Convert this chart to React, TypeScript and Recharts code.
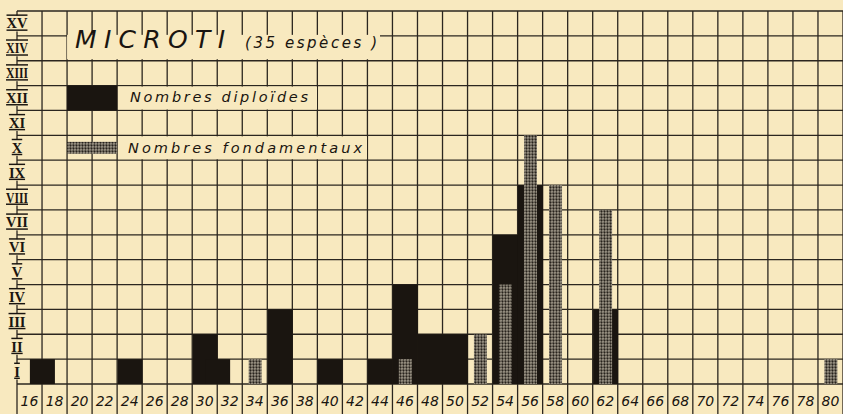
import React from 'react'
import { BarChart, Bar, XAxis, YAxis, CartesianGrid } from 'recharts'

// chromosome numbers and how many species have them
const nombres = [17, 24, 30, 31, 34, 36, 40, 44, 46, 48, 50, 52, 54, 56, 58, 62, 80]
const diploides = [1, 1, 2, 1, null, 3, 1, 1, 4, 2, 2, null, 6, 8, null, 3, null]
const fondamentaux = [null, null, null, null, 1, null, null, null, 1, null, null, 2, 4, 10, 8, 7, 1]

// grid columns are 2 units wide: boundaries on odd numbers, labels on even ones
const xBoundaries = [
  15, 17, 19, 21, 23, 25, 27, 29, 31, 33, 35, 37, 39, 41, 43, 45, 47,
  49, 51, 53, 55, 57, 59, 61, 63, 65, 67, 69, 71, 73, 75, 77, 79, 81,
]
const xLabels = [
  '16', '18', '20', '22', '24', '26', '28', '30', '32', '34', '36', '38', '40', '42', '44', '46', '48',
  '50', '52', '54', '56', '58', '60', '62', '64', '66', '68', '70', '72', '74', '76', '78', '80',
]
const yTicks = [0, 1, 2, 3, 4, 5, 6, 7, 8, 9, 10, 11, 12, 13, 14, 15]
const romans = ['I', 'II', 'III', 'IV', 'V', 'VI', 'VII', 'VIII', 'IX', 'X', 'XI', 'XII', 'XIII', 'XIV', 'XV']

const data = nombres.map((n, i) => ({ n, diploides: diploides[i], fondamentaux: fondamentaux[i] }))

const W = 843
const H = 414
const Y_W = 17
const TOP = 11
const X_H = 30
const BOTTOM = H - X_H
const COL = (W - Y_W) / (xBoundaries.length - 1)
const ROW = (BOTTOM - TOP) / (yTicks.length - 1)

const BG = '#f8e9bf'
const INK = '#1a1510'
const GRID = '#2b261f'
const LABEL_FONT = '"DejaVu Sans", sans-serif'

const colX = (k: number) => Y_W + k * COL
const rowY = (k: number) => BOTTOM - k * ROW

function XTick(props: any) {
  const { x, payload } = props
  const label = xLabels[xBoundaries.indexOf(payload.value)]
  return (
    <g>
      <line x1={x} x2={x} y1={BOTTOM} y2={H} stroke={GRID} strokeWidth={1.3} />
      {label && (
        <text
          x={x + COL / 2}
          y={BOTTOM + 22}
          textAnchor="middle"
          fontFamily={LABEL_FONT}
          fontStyle="italic"
          fontSize={14}
          fill={INK}
        >
          {label}
        </text>
      )}
    </g>
  )
}

const romanWidth = (s: string) =>
  s.split('').reduce((w, c) => w + (c === 'I' ? 5.5 : 10), 0)

function YTick(props: any) {
  const { y, payload } = props
  const v = payload.value
  if (!v) return null
  const label = romans[v - 1]
  const w = Math.min(romanWidth(label), 22)
  const cy = y + ROW / 2
  return (
    <g>
      <rect x={Y_W - w / 2 - 1} y={cy - 8} width={w + 2} height={16} fill={BG} />
      <text
        x={Y_W}
        y={cy + 5}
        textAnchor="middle"
        fontFamily='"Liberation Serif", serif'
        fontWeight="bold"
        fontSize={14.5}
        fill={INK}
        textDecoration="overline underline"
        textLength={romanWidth(label) > 22 ? 22 : undefined}
        lengthAdjust="spacingAndGlyphs"
      >
        {label}
      </text>
    </g>
  )
}

function BlackBar(p: any) {
  if (!p.height) return null
  const cx = p.x + p.width / 2
  return <rect x={cx - COL / 2} y={p.y} width={COL} height={p.height} fill={INK} />
}

function GrayBar(p: any) {
  if (!p.height) return null
  const cx = p.x + p.width / 2
  return <rect x={cx - 6.5} y={p.y} width={13} height={p.height} fill="url(#stipple)" />
}

function Overlay() {
  return (
    <svg
      width={W}
      height={H}
      style={{ position: 'absolute', left: 0, top: 0, pointerEvents: 'none' }}
    >
      {/* title panel */}
      <rect x={colX(2)} y={rowY(14) - 1} width={380 - colX(2)} height={ROW - 0.5} fill={BG} />
      <text x={75} y={48} fontFamily={LABEL_FONT} fontStyle="italic" fontSize={25} fill={INK}
        textLength={150} lengthAdjust="spacing">
        MICROTI
      </text>
      <text x={245} y={48} fontFamily={LABEL_FONT} fontStyle="italic" fontSize={15} fill={INK}
        textLength={132} lengthAdjust="spacing">
        (35 espèces )
      </text>

      {/* legend */}
      <rect x={colX(2)} y={rowY(12)} width={COL * 2} height={ROW} fill={INK} />
      <rect x={colX(4) + 1} y={rowY(12) + 1} width={316 - colX(4)} height={ROW - 2} fill={BG} />
      <text x={130} y={102} fontFamily={LABEL_FONT} fontStyle="italic" fontSize={14.5} fill={INK}
        textLength={178} lengthAdjust="spacing">
        Nombres diploïdes
      </text>

      <rect x={colX(2)} y={rowY(10) + 6.5} width={COL * 2} height={12} fill="url(#stipple)" />
      <rect x={colX(4) + 1} y={rowY(10) + 1} width={366 - colX(4)} height={ROW - 2} fill={BG} />
      <text x={128} y={153} fontFamily={LABEL_FONT} fontStyle="italic" fontSize={14.5} fill={INK}
        textLength={234} lengthAdjust="spacing">
        Nombres fondamentaux
      </text>
    </svg>
  )
}

export default function App() {
  return (
    <div
      style={{
        position: 'fixed',
        left: 0,
        top: 0,
        width: W,
        height: H,
        background: BG,
        overflow: 'hidden',
      }}
    >
      <BarChart width={W} height={H} data={data} margin={{ top: TOP, right: 0, bottom: 0, left: 0 }}>
        <defs>
          <pattern id="stipple" width={3} height={3} patternUnits="userSpaceOnUse">
            <rect width={3} height={3} fill="#a29b8c" />
            <circle cx={1.5} cy={1.5} r={1.15} fill="#27221c" />
            <circle cx={0} cy={0} r={0.6} fill="#4a443b" />
          </pattern>
        </defs>
        <CartesianGrid stroke={GRID} strokeWidth={1.3} />
        <XAxis
          dataKey="n"
          type="number"
          domain={[15, 81]}
          ticks={xBoundaries}
          interval={0}
          allowDataOverflow
          height={X_H}
          axisLine={false}
          tickLine={false}
          tick={<XTick />}
        />
        <XAxis
          xAxisId="f"
          dataKey="n"
          type="number"
          domain={[15, 81]}
          ticks={xBoundaries}
          allowDataOverflow
          hide
        />
        <YAxis
          type="number"
          domain={[0, 15]}
          ticks={yTicks}
          interval={0}
          width={Y_W}
          axisLine={false}
          tickLine={false}
          tick={<YTick />}
        />
        <Bar dataKey="diploides" barSize={21} shape={<BlackBar />} isAnimationActive={false} />
        <Bar
          dataKey="fondamentaux"
          xAxisId="f"
          barSize={21}
          shape={<GrayBar />}
          isAnimationActive={false}
        />
      </BarChart>
      <Overlay />
    </div>
  )
}
